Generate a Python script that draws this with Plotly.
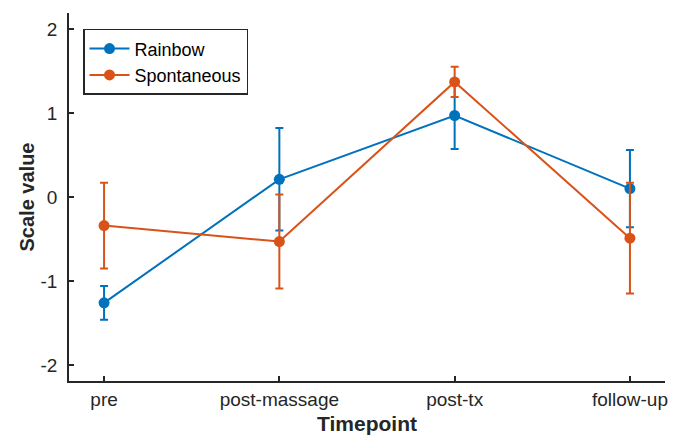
import plotly.graph_objects as go

categories = ["pre", "post-massage", "post-tx", "follow-up"]
rainbow = [-1.26, 0.21, 0.97, 0.10]
rainbow_err = [0.20, 0.61, 0.40, 0.46]
spont = [-0.34, -0.53, 1.37, -0.49]
spont_err = [0.51, 0.56, 0.18, 0.66]
ytick_vals = [-2, -1, 0, 1, 2]
ytick_text = ["-2", "-1", "0", "1", "2"]

BLUE = "#0072BD"
ORANGE = "#D95319"
AX = "#262626"
FONT = "Liberation Sans, Arial, Helvetica, sans-serif"

fig = go.Figure()
for name, vals, errs, col in [("Rainbow", rainbow, rainbow_err, BLUE),
                              ("Spontaneous", spont, spont_err, ORANGE)]:
    fig.add_trace(go.Scatter(
        x=list(range(1, len(categories) + 1)), y=vals, name=name,
        mode="lines+markers",
        line=dict(color=col, width=2),
        marker=dict(color=col, size=11),
        error_y=dict(type="data", array=errs, visible=True, color=col,
                     thickness=2, width=4),
    ))

# page body has an 8px default margin, so the figure is sized/offset to compensate
fig.update_layout(
    width=675, height=433,
    margin=dict(l=61, r=18, t=5, b=60),
    paper_bgcolor="white", plot_bgcolor="white",
    font=dict(family=FONT, size=19, color=AX),
    showlegend=True,
    legend=dict(x=0.0235, y=0.957, xanchor="left", yanchor="top",
                bgcolor="white", bordercolor=AX, borderwidth=1.5,
                font=dict(size=18, color="#000000"),
                tracegroupgap=0, itemwidth=40),
    xaxis=dict(
        range=[0.8, 4.2], tickvals=list(range(1, len(categories) + 1)),
        ticktext=categories, showgrid=False, zeroline=False,
        showline=True, linecolor=AX, linewidth=1.5,
        ticks="inside", ticklen=5, tickcolor=AX, tickwidth=1.5,
        tickfont=dict(size=19, color=AX),
        title=dict(text="<b>Timepoint</b>", font=dict(size=21, color=AX), standoff=8),
    ),
    yaxis=dict(
        range=[-2.19, 2.19], tickvals=ytick_vals, ticktext=ytick_text,
        showgrid=False, zeroline=False,
        showline=True, linecolor=AX, linewidth=1.5,
        ticks="inside", ticklen=5, tickcolor=AX, tickwidth=1.5,
        tickfont=dict(size=19, color=AX), ticklabelstandoff=6,
        title=dict(text="<b>Scale value</b>", font=dict(size=20, color=AX), standoff=1),
    ),
)

fig.write_html("out.html")
